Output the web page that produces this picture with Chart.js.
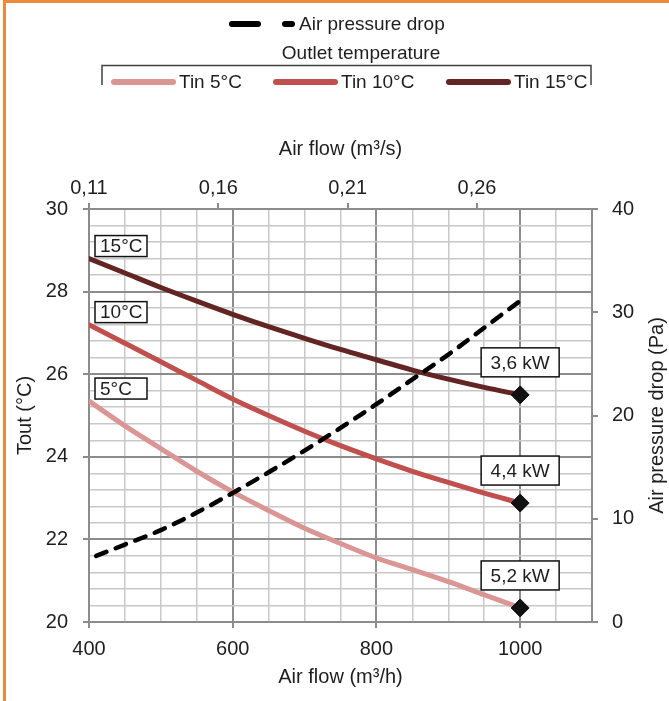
<!DOCTYPE html>
<html>
<head>
<meta charset="utf-8">
<title>Outlet temperature vs air flow</title>
<script src="https://cdn.jsdelivr.net/npm/chart.js@4.4.1/dist/chart.umd.min.js"></script>
<style>
  html, body { margin: 0; padding: 0; background: #fff; }
  #frame {
    position: absolute; left: 3px; top: 0; width: 666px; height: 701px;
    border-top: 3px solid #EA8B3C; border-left: 3px solid #EA8B3C; box-sizing: border-box;
  }
  #chart { position: absolute; left: 0; top: 0; }
</style>
</head>
<body>
<div id="frame"></div>
<canvas id="chart" width="669" height="701"></canvas>
<script>
// Values
const airFlow = [400, 450, 500, 550, 600, 650, 700, 750, 800, 850, 900, 950, 1000]; // m³/h
const toutTin5  = [25.35, 24.75, 24.2, 23.65, 23.15, 22.7, 22.27, 21.9, 21.55, 21.27, 20.98, 20.66, 20.34];
const toutTin10 = [27.2, 26.75, 26.3, 25.85, 25.4, 25.0, 24.62, 24.27, 23.95, 23.65, 23.38, 23.12, 22.88];
const toutTin15 = [28.8, 28.45, 28.1, 27.77, 27.45, 27.15, 26.87, 26.6, 26.35, 26.1, 25.88, 25.68, 25.5];

const pressureFlow = [410, 450, 500, 550, 600, 650, 700, 750, 800, 850, 900, 950, 1000];
const pressureDrop = [6.4, 7.5, 8.9, 10.6, 12.5, 14.5, 16.6, 18.8, 21.1, 23.5, 25.9, 28.5, 31.1]; // Pa

const topTickValues = [0.1111, 0.1611, 0.2111, 0.2611]; // m³/s
const curveLabels = ['5°C', '10°C', '15°C'];
const powerLabels = ['5,2 kW', '4,4 kW', '3,6 kW'];

const FONT = '"Liberation Sans", Arial, sans-serif';
const TEXT = '#1e1e1e';
const GRID_MAJOR = '#8c8c8c';
const GRID_MINOR = '#c8c8c8';

Chart.defaults.font.family = FONT;
Chart.defaults.font.size = 20;
Chart.defaults.color = TEXT;

const pts = (xs, ys) => xs.map((x, i) => ({ x, y: ys[i] }));

const tempSeries = (label, values, color, idx) => ({
  label,
  data: pts(airFlow, values),
  xAxisID: 'x',
  yAxisID: 'y',
  borderColor: color,
  backgroundColor: color,
  borderWidth: 5,
  borderCapStyle: 'round',
  cubicInterpolationMode: 'monotone',
  pointStyle: 'rectRot',
  pointRadius: c => (c.dataIndex === values.length - 1 ? 9 : 0),
  pointBackgroundColor: '#111',
  pointBorderColor: '#111',
  pointBorderWidth: 1,
  startLabel: curveLabels[idx],
  endLabel: powerLabels[idx],
});

// boxed labels at the start and end of each temperature curve
const curveLabelPlugin = {
  id: 'curveLabels',
  afterDatasetsDraw(chart) {
    const { ctx } = chart;
    const box = (text, x, y, w, h, align) => {
      ctx.fillStyle = '#fff';
      ctx.fillRect(x, y, w, h);
      ctx.strokeStyle = '#111';
      ctx.lineWidth = 1.5;
      ctx.strokeRect(x, y, w, h);
      ctx.fillStyle = TEXT;
      ctx.textAlign = align;
      ctx.fillText(text, align === 'left' ? x + 5 : x + w / 2, y + h / 2 + 1);
    };
    ctx.save();
    ctx.font = '19px ' + FONT;
    ctx.textBaseline = 'middle';
    chart.data.datasets.forEach((ds, i) => {
      if (!ds.startLabel) return;
      const data = chart.getDatasetMeta(i).data;
      const first = data[0];
      const last = data[data.length - 1];
      box(ds.startLabel, first.x + 6, first.y - 23, 52, 21, 'left');
      box(ds.endLabel, last.x - 39, last.y - 47, 78, 29, 'center');
    });
    ctx.restore();
  }
};

// Excel-style legend: dashed entry on top, grouped temperature entries below,
// plus the right axis title, which reads bottom-to-top in the original
const legendPlugin = {
  id: 'excelLegend',
  afterDraw(chart) {
    const { ctx } = chart;
    const sets = chart.data.datasets;
    const byLabel = l => sets.find(d => d.label === l);
    ctx.save();
    ctx.font = '19px ' + FONT;
    ctx.textBaseline = 'middle';
    ctx.lineCap = 'round';

    const pd = sets[0];
    ctx.strokeStyle = pd.borderColor;
    ctx.lineWidth = 6;
    ctx.setLineDash([26, 27]);
    ctx.beginPath();
    ctx.moveTo(232, 24);
    ctx.lineTo(292, 24);
    ctx.stroke();
    ctx.setLineDash([]);
    ctx.fillStyle = TEXT;
    ctx.textAlign = 'left';
    ctx.fillText(pd.label, 299, 25);

    ctx.textAlign = 'center';
    ctx.fillText('Outlet temperature', 361, 54);

    ctx.strokeStyle = '#404040';
    ctx.lineWidth = 1.5;
    ctx.lineCap = 'butt';
    ctx.beginPath();
    ctx.moveTo(102, 85);
    ctx.lineTo(102, 65.5);
    ctx.lineTo(591, 65.5);
    ctx.lineTo(591, 85);
    ctx.stroke();

    const entries = [['Tin 5°C', 111], ['Tin 10°C', 273], ['Tin 15°C', 446]];
    ctx.lineCap = 'round';
    ctx.textAlign = 'left';
    entries.forEach(([label, x]) => {
      const ds = byLabel(label);
      ctx.strokeStyle = ds.borderColor;
      ctx.lineWidth = 6;
      ctx.beginPath();
      ctx.moveTo(x + 3, 82);
      ctx.lineTo(x + 62, 82);
      ctx.stroke();
      ctx.fillStyle = TEXT;
      ctx.fillText(label, x + 68, 83);
    });

    const y2 = chart.scales.y2;
    const area = chart.chartArea;
    ctx.font = '20px ' + FONT;
    ctx.textAlign = 'center';
    ctx.translate(y2.right - 12, (area.top + area.bottom) / 2);
    ctx.rotate(-Math.PI / 2);
    ctx.fillText(chart.options.scales.y2.title.text, 0, 0);
    ctx.restore();
  }
};

const isMajorFlow = v => v % 200 === 0 || v === 1100;
const isMajorTout = v => Math.abs(v / 2 - Math.round(v / 2)) < 1e-6;

new Chart(document.getElementById('chart'), {
  type: 'line',
  data: {
    datasets: [
      {
        label: 'Air pressure drop',
        data: pts(pressureFlow, pressureDrop),
        xAxisID: 'x',
        yAxisID: 'y2',
        borderColor: '#000',
        borderWidth: 4.5,
        borderDash: [11, 10],
        borderCapStyle: 'round',
        cubicInterpolationMode: 'monotone',
        pointRadius: 0,
      },
      tempSeries('Tin 15°C', toutTin15, '#632523', 2),
      tempSeries('Tin 10°C', toutTin10, '#C0504D', 1),
      tempSeries('Tin 5°C', toutTin5, '#D99694', 0),
    ]
  },
  options: {
    responsive: false,
    animation: false,
    devicePixelRatio: 1,
    layout: { padding: { top: 120, left: 0, right: 0, bottom: 0 } },
    plugins: { legend: { display: false }, tooltip: { enabled: false } },
    scales: {
      x: {
        type: 'linear',
        position: 'bottom',
        min: 400,
        max: 1100,
        afterFit: s => { s.height = 79; },
        ticks: {
          stepSize: 50,
          autoSkip: false,
          maxRotation: 0,
          padding: 9,
          callback: v => (v % 200 === 0 ? String(v) : ''),
        },
        grid: {
          color: c => (isMajorFlow(c.tick.value) ? GRID_MAJOR : GRID_MINOR),
          lineWidth: c => (isMajorFlow(c.tick.value) ? 2 : 1.5),
          tickLength: 6,
          tickColor: c => (c.tick.value % 200 === 0 ? GRID_MAJOR : 'rgba(0,0,0,0)'),
        },
        border: { color: GRID_MAJOR, width: 2 },
        title: { display: true, text: 'Air flow (m³/h)', padding: { top: 0, bottom: 12 } },
      },
      x2: {
        type: 'linear',
        position: 'top',
        min: 400 / 3600,
        max: 1100 / 3600,
        afterFit: s => { s.height = 89; },
        afterBuildTicks: axis => { axis.ticks = topTickValues.map(value => ({ value })); },
        ticks: {
          autoSkip: false,
          maxRotation: 0,
          padding: 3,
          callback: v => v.toFixed(2).replace('.', ','),
        },
        grid: { drawOnChartArea: false, tickLength: 6, color: GRID_MAJOR, lineWidth: 2 },
        border: { color: GRID_MAJOR, width: 2 },
        title: { display: true, text: 'Air flow (m³/s)', padding: { top: 17, bottom: 0 } },
      },
      y: {
        type: 'linear',
        position: 'left',
        min: 20,
        max: 30,
        afterFit: s => { s.width = 89; },
        afterBuildTicks: axis => {
          axis.ticks = Array.from({ length: 26 }, (_, i) => ({ value: Math.round((20 + i * 0.4) * 10) / 10 }));
        },
        ticks: {
          autoSkip: false,
          padding: 15,
          callback: v => (isMajorTout(v) ? String(Math.round(v)) : ''),
        },
        grid: {
          color: c => (isMajorTout(c.tick.value) ? GRID_MAJOR : GRID_MINOR),
          lineWidth: c => (isMajorTout(c.tick.value) ? 2 : 1.5),
          tickLength: 6,
          tickColor: c => (isMajorTout(c.tick.value) ? GRID_MAJOR : 'rgba(0,0,0,0)'),
        },
        border: { color: GRID_MAJOR, width: 2 },
        title: { display: true, text: 'Tout (°C)', padding: { top: 13, bottom: 0 } },
      },
      y2: {
        type: 'linear',
        position: 'right',
        min: 0,
        max: 40,
        afterFit: s => { s.width = 77; },
        ticks: { stepSize: 10, padding: 14 },
        grid: { drawOnChartArea: false, tickLength: 6, color: GRID_MAJOR, lineWidth: 2 },
        border: { color: GRID_MAJOR, width: 2 },
        // drawn by the legend plugin so it reads bottom-to-top
        title: { display: false, text: 'Air pressure drop (Pa)' },
      },
    }
  },
  plugins: [curveLabelPlugin, legendPlugin]
});
</script>
</body>
</html>
